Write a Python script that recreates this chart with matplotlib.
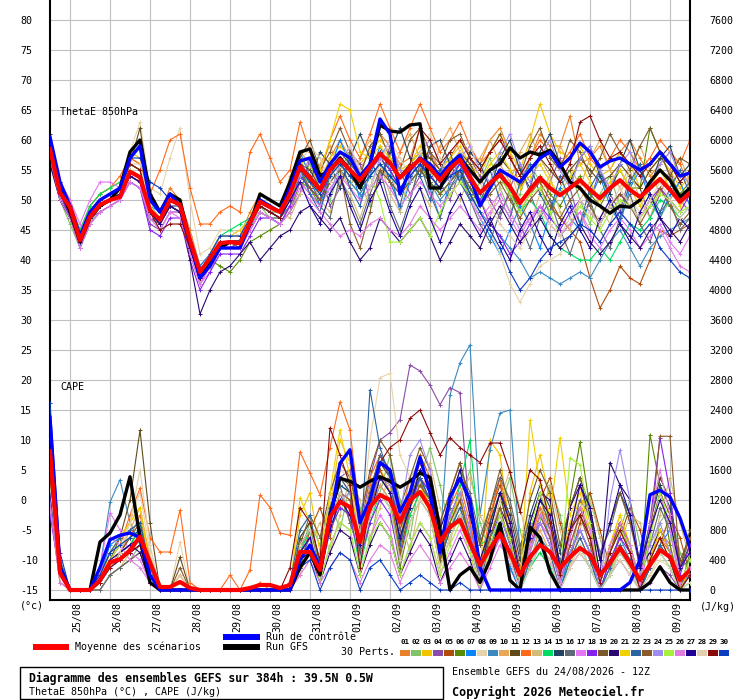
import matplotlib
matplotlib.use("Agg")
import matplotlib.pyplot as plt
import matplotlib.transforms as mtransforms
from matplotlib.lines import Line2D
from matplotlib.patches import Rectangle

plt.rcParams['font.family'] = ['DejaVu Sans Mono']

# forecast hours (every 6 h from 24/08 12Z, 384 h)
hours = list(range(0, 385, 6))
day_hours = [12, 36, 60, 84, 108, 132, 156, 180, 204, 228, 252, 276, 300, 324, 348, 372]
day_labels = ['25/08', '26/08', '27/08', '28/08', '29/08', '30/08', '31/08', '01/09',
              '02/09', '03/09', '04/09', '05/09', '06/09', '07/09', '08/09', '09/09']
theta_ticks = list(range(-15, 81, 5))
cape_ticks = list(range(0, 7601, 400))

pert_names = ['%02d' % (k + 1) for k in range(30)]
pert_colors = ['#E8812A', '#80C468', '#F2C400', '#8A4CA8', '#B04C0A', '#5A8A00', '#0A84FF', '#E8D4AC',
               '#3A8AC0', '#E8A858', '#604A1A', '#FF6A1A', '#D4BC78', '#00DC60', '#224460', '#5F6A78',
               '#E478F4', '#8420F0', '#7A5A2A', '#2A0870', '#F0D000', '#2A64A0', '#8A5A2A', '#A08CF0',
               '#A8F040', '#E07CE0', '#1E0096', '#E0D0B0', '#8A0A0A', '#0A3CC0']

# ---- ThetaE 850 hPa (degC) ----
theta_mean = [58.5, 51.2, 48.8, 43.3, 47.2, 49.2, 50.0, 50.5, 54.7, 53.8, 48.3, 46.7, 50.0, 49.2,
              43.3, 38.0, 40.3, 42.8, 43.0, 42.8, 46.2, 49.7, 48.8, 48.0,
              51.0, 55.5, 53.7, 51.7, 55.0, 56.7, 55.0, 53.3, 55.5, 57.7, 56.2, 53.7, 55.3, 56.8, 55.3, 53.3, 55.3, 56.7, 53.8,
              51.2, 52.8, 54.2, 52.2, 49.5, 51.7, 53.7, 52.0, 50.8, 52.0, 53.3, 51.7, 50.3, 52.0, 53.3, 51.7, 50.5, 52.0, 53.5, 51.7, 49.7, 51.2]
theta_control = [60.5, 53, 49, 44, 48, 50, 51, 52, 57, 59, 50, 48, 51, 49, 43, 37, 39, 42, 42, 42, 46, 50, 49, 48,
                 52, 56.5, 57, 53, 56, 58, 57, 54, 56, 63.5, 61, 51, 55, 57, 56, 54, 56, 57.5, 54,
                 49, 52, 55, 54, 53, 55, 57, 58, 55.5, 57, 59.5, 58, 55.5, 56.5, 57, 56, 55, 56, 58, 56, 54, 54.5]
theta_gfs = [59, 52, 48, 43, 47, 49, 50, 52, 58, 60, 51, 48, 51, 50, 43, 37, 40, 42, 43, 43, 46, 51, 50, 49,
             53, 58, 58.5, 54, 55, 57, 55, 52, 56, 62.5, 61.5, 61.3, 62.5, 62.7, 52, 52, 55, 57, 55,
             53, 55, 56, 58.7, 57, 58, 57.5, 58.3, 56, 53, 52, 50, 49, 47.8, 49, 48.8, 50, 53, 55, 53.3, 50.5, 52]
theta_perts = [
    [59,52,48,44, 48,50,51,52,57,56, 50,48,52,50, 45,39,41,44,44,44, 48,51,50,49, 53,58,56,53,57,60,57,55,58,61,59,56,57,62,58,55,57,60,58, 56,60,62,58,52,57,61,59,59,64,56,57,59,55,58,60,57,54,56,58,56,52],
    [57,50,46,42, 46,49,50,51,54,53, 47,46,49,48, 42,37,39,42,43,42, 45,49,47,47, 49,53,56,52,50,55,58,53,49,54,57,52,50,56,55,51,57,54,50, 53,57,52,48,51,56,53,47,52,55,50,46,51,54,49,52,56,51,47,50,53,49],
    [60,53,50,44, 49,51,52,53,58,57, 50,48,51,50, 44,38,41,44,44,45, 47,51,50,49, 52,57,55,53,57,59,57,56,58,60,58,55,56,59,57,55,57,59,56, 54,58,61,58,55,60,66,61,58,57,59,56,54,55,58,56,52,55,57,55,52,54],
    [56,50,47,43, 47,48,49,50,53,52, 46,45,48,48, 41,36,39,42,42,43, 45,48,47,46, 48,51,57,55,49,52,58,56,50,53,59,55,51,54,58,53,50,55,57, 54,50,47,52,56,51,47,53,57,52,46,50,55,51,48,54,52,47,51,55,50,48],
    [58,51,48,43, 47,49,50,51,55,54, 49,47,50,49, 43,37,39,42,43,42, 46,49,48,47, 50,55,53,50,54,56,54,52,55,57,55,52,54,56,54,52,54,56,53, 50,53,55,52,48,51,53,50,47,45,43,37,32,35,39,37,36,40,45,44,45,46],
    [59,52,49,44, 48,50,51,52,56,55, 48,46,50,49, 42,37,40,39,38,40, 43,44,45,46, 48,53,52,49,53,55,53,51,54,56,54,52,54,56,53,51,53,55,52, 50,52,54,51,49,52,54,51,49,52,54,51,49,52,55,52,52,62,58,54,51,53],
    [60,53,49,44, 48,50,51,52,56,55, 49,48,51,50, 44,39,41,44,44,44, 47,50,49,48, 52,58,54,49,55,60,56,50,54,59,55,48,53,58,52,47,53,56,51, 47,44,41,45,49,46,42,48,52,47,45,50,54,49,46,52,55,50,47,51,53,49],
    [58,52,49,44, 48,50,51,52,58,63, 52,51,57,62, 50,41,42,45,45,44, 47,50,49,48, 51,55,53,51,54,56,54,52,54,56,54,51,53,55,53,51,52,54,51, 47,45,41,36,33,36,39,40,41,44,46,48,47,49,51,50,48,50,52,50,48,49],
    [57,51,47,43, 47,49,50,51,54,53, 47,46,49,48, 42,37,39,42,42,42, 45,48,47,46, 49,54,52,50,53,55,53,51,54,56,53,51,53,55,53,50,52,54,51, 48,46,44,42,40,37,38,37,36,37,38,37,40,43,45,42,39,42,44,45,46,47],
    [59,52,49,44, 48,50,51,52,56,55, 49,47,50,50, 44,38,41,44,44,44, 47,50,49,48, 54,57,53,56,59,55,52,57,60,56,53,58,61,57,54,59,62,58,55, 57,60,56,53,58,61,57,54,59,56,52,57,60,55,52,56,59,55,51,55,57,53],
    [58,51,48,43, 47,49,50,52,56,62, 51,48,51,50, 44,38,40,43,43,43, 46,50,49,48, 51,56,55,52,56,58,56,54,56,58,56,54,56,58,57,55,56,58,56, 53,55,57,55,52,55,57,55,53,55,57,55,53,54,56,54,52,55,57,56,53,55],
    [60,53,50,45, 49,51,52,54,57,56, 51,55,60,61, 52,46,46,48,49,48, 58,61,57,53, 55,63,58,54,60,64,60,57,61,66,62,58,62,66,62,58,60,63,59, 56,58,60,57,54,57,60,58,56,58,61,57,55,57,60,58,55,57,60,58,56,60],
    [58,52,48,44, 48,50,51,52,55,54, 49,47,50,49, 43,38,40,43,43,43, 46,49,48,48, 47,51,54,50,48,53,51,47,52,56,51,48,54,52,49,55,53,50,54, 50,47,52,55,50,46,51,54,48,45,50,53,49,46,51,55,50,47,52,54,49,51],
    [59,52,49,45, 49,51,52,53,55,54, 49,47,50,49, 43,38,41,44,45,46, 47,50,49,48, 50,54,53,51,54,56,54,52,54,56,54,52,53,55,53,51,53,55,52, 50,52,54,51,48,50,48,44,42,41,40,40,42,40,43,46,45,47,50,49,47,49],
    [57,50,47,43, 47,49,50,51,54,53, 48,46,49,49, 42,37,40,43,43,43, 46,49,48,47, 50,55,53,58,56,52,57,61,57,53,58,62,57,54,59,60,56,53,58, 56,52,57,60,55,52,58,61,56,53,57,59,54,51,56,60,55,52,57,59,54,56],
    [58,51,48,43, 47,49,50,51,54,53, 47,46,49,48, 42,37,39,42,42,43, 45,48,47,47, 49,53,51,49,47,54,50,46,51,55,49,45,50,56,51,47,52,55,50, 46,43,48,51,46,42,47,50,45,41,46,50,45,42,47,51,46,43,48,50,45,47],
    [60,53,50,46, 50,53,53,52,54,53, 47,45,48,48, 42,36,38,42,42,42, 45,48,47,46, 49,53,51,49,52,54,52,50,52,54,52,49,51,53,51,49,51,53,50, 47,49,51,48,45,47,49,46,44,46,48,44,42,45,47,45,42,44,46,43,41,44],
    [57,51,47,42, 46,48,49,50,53,52, 45,44,47,47, 40,35,38,41,41,41, 44,47,47,46, 49,54,52,50,54,56,54,52,55,57,55,52,54,56,54,52,54,56,53, 50,46,44,41,43,46,49,47,45,48,50,48,46,49,51,49,47,50,52,50,48,51],
    [59,52,49,44, 48,50,51,52,56,55, 48,46,50,49, 43,37,40,43,43,43, 46,50,49,48, 53,57,60,55,58,62,58,54,59,61,57,55,60,62,58,56,60,61,57, 55,58,61,57,54,59,62,57,55,60,58,54,57,61,58,55,59,62,58,54,57,56],
    [56,50,47,43, 47,49,50,51,54,53, 48,46,49,48, 40,31,35,38,39,41, 43,40,42,44, 45,48,49,47,45,47,43,40,42,47,45,43,45,47,44,40,43,46,44, 42,46,49,46,43,45,47,44,42,44,46,43,41,43,46,44,42,45,47,45,43,46],
    [59,52,49,44, 48,50,51,52,55,54, 48,47,50,49, 43,38,41,44,44,44, 47,50,49,48, 52,56,57,55,60,66,65,58,57,59,57,55,56,58,56,54,56,58,55, 53,56,58,55,52,54,56,53,51,54,56,53,50,53,55,52,49,52,55,52,49,52],
    [58,51,48,43, 47,49,50,51,55,54, 48,47,50,49, 43,37,40,43,43,43, 46,49,48,48, 50,55,51,48,54,57,52,49,55,58,53,49,56,54,50,55,58,53,50, 51,55,50,47,53,56,51,48,54,50,46,52,55,50,47,53,56,51,48,52,55,51],
    [58,51,48,43, 47,49,50,51,54,53, 48,46,49,48, 42,37,40,43,43,43, 46,49,48,47, 50,55,52,50,53,55,46,42,48,55,53,51,53,55,53,51,53,55,52, 49,51,53,50,47,50,52,49,47,50,52,49,46,49,51,49,46,49,52,49,46,48],
    [58,52,48,43, 48,50,51,52,55,54, 48,47,50,49, 43,38,40,43,43,43, 46,49,48,48, 51,54,57,53,51,56,59,54,52,57,60,55,53,58,60,56,53,57,59, 55,53,58,61,56,53,57,60,55,52,57,59,55,52,56,58,54,52,56,58,54,53],
    [59,52,49,44, 48,50,51,52,55,54, 49,47,50,49, 43,38,40,43,43,43, 46,49,48,48, 50,55,53,51,54,56,54,52,54,50,43,43,45,47,44,48,51,53,51, 49,52,54,51,48,51,52,48,44,46,49,47,45,48,50,49,47,49,51,50,48,49],
    [57,50,47,42, 46,48,49,50,53,52, 47,45,48,47, 41,36,39,42,42,42, 45,48,47,46, 48,52,50,48,46,44,45,44,46,47,45,44,46,49,47,45,47,49,47, 45,48,50,47,44,47,49,46,44,46,48,45,43,46,48,46,44,46,45,42,39,38],
    [58,51,48,43, 47,49,50,51,54,53, 48,46,49,48, 42,37,40,43,43,43, 46,49,48,47, 50,53,49,46,51,54,49,45,50,53,48,44,49,52,47,43,48,51,47, 44,47,43,40,45,48,44,41,46,49,45,42,47,50,46,43,48,51,47,44,47,45],
    [58,52,49,44, 48,50,51,52,56,56, 49,47,51,50, 44,38,41,44,44,44, 47,50,49,48, 52,56,59,57,53,57,59,55,52,56,60,57,54,58,61,57,54,58,60, 53,49,46,44,42,45,48,46,44,47,50,48,46,49,52,49,47,50,53,50,47,49],
    [59,52,49,44, 48,50,51,52,56,55, 48,45,46,46, 42,37,40,43,43,43, 46,49,48,47, 51,56,54,52,55,57,55,53,56,58,56,54,56,62,60,56,58,60,57, 55,58,60,57,54,57,59,56,53,56,63,64,60,57,58,56,54,56,58,56,53,55],
    [61,53,49,44, 48,50,51,52,57,57, 53,52,50,49, 43,38,41,44,44,44, 47,50,49,48, 51,55,53,51,54,56,54,52,54,56,54,52,54,56,54,52,54,55,51, 48,45,42,38,35,37,40,42,43,44,46,45,43,46,48,46,44,46,42,40,38,37],
]

# ---- CAPE (J/kg) ----
cape_mean = [1850, 230, 0, 0, 0, 130, 370, 410, 530, 710, 370, 40, 40, 107, 27, 0, 0, 0, 0, 0, 27, 67, 67, 27,
             67, 507, 507, 267, 973, 1173, 1107, 640, 1107, 1267, 1200, 907, 1200, 1307, 1093, 640, 840, 933, 627, 333,
             550, 750, 493, 200, 440, 600, 507, 293, 440, 560, 467, 200, 360, 560, 360, 133, 333, 533, 440, 133, 267]
cape_control = [2300, 300, 0, 0, 0, 300, 670, 730, 760, 700, 200, 0, 0, 0, 0, 0, 0, 0, 0, 0, 0, 0, 0, 0,
                0, 400, 600, 300, 900, 1690, 1870, 900, 1200, 1700, 1600, 1040, 1300, 1770, 1300, 500, 1240, 1490, 1200, 300,
                0, 0, 0, 0, 0, 0, 0, 0, 0, 0, 0, 0, 0, 0, 100, 400, 1270, 1330, 1240, 960, 570]
cape_gfs = [2000, 300, 0, 0, 0, 640, 760, 1000, 1510, 700, 100, 0, 0, 0, 0, 0, 0, 0, 0, 0, 0, 0, 0, 0,
            0, 300, 500, 200, 1000, 1490, 1450, 1370, 1450, 1510, 1450, 1370, 1450, 1560, 1500, 800, 0, 200, 300, 100,
            400, 890, 130, 0, 840, 700, 240, 0, 0, 0, 0, 0, 0, 0, 0, 0, 100, 310, 100, 0, 0]
cape_perts = [
    [1700,300,0,0, 0,100,400,500,700,1000,300,0, 0,200,0,0,0,0,0,0, 0,100,0,0, 100,600,700,300,1200,1500,1300,700,1400,1700,1500,900,1500,1700,1300,500,1000,1200,700,300,900,1500,700,100,600,1100,900,300,800,1400,900,200,500,900,600,100,400,800,600,100,300],
    [1200,200,0,0, 0,0,200,300,400,600,100,0, 0,0,0,0,0,0,0,0, 0,0,0,0, 0,500,900,600,1200,800,1400,1100,600,1300,1800,1200,700,1500,1900,1400,800,1200,1600,900,500,1100,1500,800,300,900,1400,1000,400,1100,1300,700,200,800,1200,600,300,900,1100,500,200],
    [1500,300,0,0, 0,100,500,700,900,1100,400,0, 0,0,0,0,0,0,0,0, 0,0,0,0, 0,1000,1300,500,1100,2000,1700,600,1300,1600,1400,400,1200,1500,1100,300,900,1200,700,200,2000,1800,800,100,1300,1800,1200,300,900,1200,700,100,600,1000,600,100,400,700,400,0,300],
    [1400,200,0,0, 0,100,300,400,500,700,200,0, 0,0,0,0,0,0,0,0, 0,0,0,0, 0,600,800,200,900,1500,1600,800,1500,2000,2100,2270,3000,2920,2730,2470,2700,2630,900,200,500,700,300,0,400,600,400,0,300,500,300,0,200,400,200,0,100,300,200,0,0],
    [1100,100,0,0, 0,0,200,300,400,500,100,0, 0,0,0,0,0,0,0,0, 0,0,0,0, 0,300,800,1100,700,1300,900,500,1100,1600,1300,700,1200,1800,1500,900,1300,1700,1100,600,1000,1400,900,300,700,1200,1500,900,400,900,1300,800,300,700,1100,800,300,600,1000,700,200],
    [1300,200,0,0, 0,100,300,500,600,800,200,0, 0,0,0,0,0,0,0,0, 0,0,0,0, 0,500,700,200,800,1200,1100,400,1000,1300,1100,300,900,1200,1000,300,700,1000,600,200,900,1300,700,100,500,1000,700,100,1200,1970,1100,100,600,900,500,0,2070,1400,600,0,500],
    [1600,400,0,0, 0,200,600,700,800,900,200,0, 0,0,0,0,0,0,0,0, 0,0,0,0, 0,700,900,200,1000,1400,1300,500,1200,1500,1300,500,1100,1400,1200,400,800,1100,600,100,400,700,300,0,300,600,300,0,500,800,500,0,300,600,400,0,300,600,800,100,200],
    [1500,300,0,0, 0,100,400,600,900,1300,500,0, 0,640,0,0,0,0,0,0, 0,0,0,0, 0,800,1000,300,1200,1600,1500,700,2000,2830,2890,1800,1500,1700,1300,400,900,1100,600,100,500,800,400,0,300,500,300,0,300,500,300,0,200,400,200,0,200,400,300,0,100],
    [1200,200,0,0, 0,300,1170,1470,900,600,200,0, 0,0,0,0,0,0,0,0, 0,0,0,0, 0,500,700,200,900,1300,1100,400,1000,1400,1200,400,1100,1500,1300,600,2600,3030,3270,1000,1870,2360,2400,500,800,1100,700,100,500,800,500,0,400,700,400,0,300,600,400,0,200],
    [1300,200,0,0, 0,100,300,500,800,1100,400,0, 0,200,0,0,0,0,0,0, 0,0,0,0, 0,600,800,200,900,1300,1200,500,1100,1400,1200,500,1000,1300,1100,300,700,1000,600,100,600,900,500,0,400,800,500,0,400,700,400,0,300,600,400,0,300,600,400,0,200],
    [1400,300,0,0, 0,100,400,700,1200,2130,900,0, 0,440,0,0,0,0,0,0, 0,0,0,0, 0,700,900,300,1000,1500,1400,600,1300,1700,1500,600,1200,1600,1400,500,900,1200,700,200,800,1300,700,100,700,1200,900,200,800,1100,700,100,500,900,600,100,900,1500,1200,300,800],
    [1800,400,0,0, 0,100,400,600,1000,1360,700,507, 507,1067,100,0,0,0,200,0, 270,1270,1100,760, 730,1840,1560,1270,1900,2510,2130,1000,1500,1800,1600,800,1300,1700,1400,600,1100,1400,900,300,1000,1500,900,200,700,1100,800,100,600,1000,700,100,500,900,600,100,400,700,500,0,300],
    [1100,100,0,0, 0,0,200,300,500,700,200,0, 0,0,0,0,0,0,0,0, 0,0,0,0, 0,200,600,900,500,1000,1500,1200,700,1100,1600,1000,500,1200,1700,1100,600,1300,1500,1000,700,1200,1600,1100,500,1000,1400,800,300,800,1200,700,200,600,1000,900,400,1000,1500,900,400],
    [1600,300,0,0, 0,100,300,500,600,840,200,0, 0,0,0,0,0,0,0,0, 0,0,0,0, 0,500,800,200,800,1100,1000,300,900,1300,1100,400,1000,1300,1100,300,900,1400,2000,600,700,900,400,0,300,500,300,0,400,600,300,0,200,500,300,0,300,500,300,0,100],
    [1500,300,0,0, 0,100,300,400,500,600,100,0, 0,0,0,0,0,0,0,0, 0,0,0,0, 0,600,800,300,1000,1400,1300,500,1300,1800,1600,600,1200,1500,1200,400,800,1000,600,100,900,1300,1000,400,1000,1400,1100,500,1100,1500,1100,400,900,1300,1000,300,900,1400,1100,300,600],
    [1200,200,0,0, 0,0,200,300,400,500,100,0, 0,0,0,0,0,0,0,0, 0,0,0,0, 0,400,700,400,1100,1400,900,500,1300,1800,1500,800,1200,1500,1000,600,1100,1600,1300,700,1100,1500,1200,600,900,1300,800,400,700,1200,1000,500,800,1300,900,400,600,1100,800,300,400],
    [1300,200,0,0, 0,300,1030,800,500,400,100,0, 0,0,0,0,0,0,0,0, 0,0,0,0, 0,300,500,100,600,900,800,200,700,1000,800,200,600,900,700,200,500,800,500,0,400,700,400,0,500,900,700,100,600,1000,700,100,500,800,500,0,700,1300,800,100,300],
    [1000,200,0,0, 0,100,300,400,500,600,100,0, 0,0,0,0,0,0,0,0, 0,0,0,0, 0,500,700,200,800,1100,1000,400,900,1200,1000,400,1100,1500,1300,500,1000,1300,800,200,700,1000,600,100,600,900,600,100,500,800,500,0,400,700,500,0,900,2030,1300,200,600],
    [1400,300,0,0, 0,100,300,500,700,900,300,0, 0,0,0,0,0,0,0,0, 0,0,0,0, 0,600,1000,700,1300,1700,1500,900,1600,2000,1800,1100,1500,1900,1600,900,1300,1700,1200,600,1100,1600,1100,500,1200,1600,1300,600,1100,1500,1000,400,900,1300,900,300,800,1300,1000,400,700],
    [1200,200,0,0, 0,100,300,500,600,500,100,0, 0,0,0,0,0,0,0,0, 0,0,0,0, 0,400,500,100,500,800,700,200,600,900,700,200,500,800,600,100,400,700,400,0,700,1100,800,100,900,1300,1200,300,1100,1400,1000,200,1700,1400,1200,300,500,800,500,0,300],
    [1500,300,0,0, 0,200,500,700,900,1100,300,0, 0,0,0,0,0,0,0,0, 0,0,0,0, 0,1230,900,300,1300,2130,1500,500,1200,1500,1300,500,1100,1400,1100,300,900,1300,700,100,700,1100,600,100,2270,1400,1000,2030,1000,1300,800,100,600,1000,600,100,400,800,500,0,300],
    [1700,400,0,0, 0,200,500,700,800,900,300,0, 0,0,0,0,0,0,0,0, 0,0,0,0, 100,800,1000,300,1100,1500,1300,500,2670,1900,1500,600,1200,1500,1200,400,800,1100,700,100,600,900,500,0,400,700,500,0,400,700,400,0,300,600,400,0,300,600,400,0,200],
    [1300,200,0,0, 0,100,300,500,700,800,200,0, 0,300,0,0,0,0,0,0, 0,0,0,0, 0,500,700,200,900,1300,1200,400,1100,1500,1300,500,1100,1400,1200,400,900,1200,700,200,700,1100,600,100,600,1000,700,100,600,1000,600,100,500,900,600,100,700,2050,2050,300,700],
    [1200,200,0,0, 0,100,300,400,500,700,200,0, 0,0,0,0,0,0,0,0, 0,0,0,0, 0,500,700,200,800,1200,1300,600,1200,1500,1400,1000,1800,2000,1600,600,1000,1300,800,200,600,1000,600,100,500,900,600,100,500,800,500,0,1200,1870,1200,200,600,900,500,0,200],
    [1600,300,0,0, 0,100,400,600,700,800,200,0, 0,0,0,0,0,0,0,0, 0,0,0,0, 0,400,600,100,600,900,800,200,700,900,700,200,600,900,700,200,600,900,500,0,600,1000,700,100,800,1300,900,200,1760,1670,900,100,500,800,600,100,700,1300,900,100,400],
    [1100,100,0,0, 0,200,700,600,400,300,100,0, 0,0,0,0,0,0,0,0, 0,0,0,0, 0,200,400,100,300,500,400,100,400,600,500,100,400,600,400,100,300,500,300,0,300,600,400,0,600,1000,800,100,700,1100,800,100,600,900,600,100,900,1600,1000,100,300],
    [1300,300,0,0, 0,100,400,500,600,700,100,0, 0,0,0,0,0,0,0,0, 0,0,0,0, 0,500,700,300,800,1200,1000,600,1000,1500,1300,700,1100,1600,1400,800,1200,1600,1000,400,800,1300,900,200,700,1200,1000,300,800,1400,1100,400,900,1400,1000,300,800,1200,900,300,500],
    [1400,200,0,0, 0,100,300,500,900,1600,600,0, 0,200,0,0,0,0,0,0, 0,0,0,0, 0,600,800,200,900,1300,1100,400,1000,1300,1100,400,900,1200,1000,300,700,1000,600,100,500,800,400,0,300,600,400,0,300,600,300,0,200,500,300,0,200,500,300,0,100],
    [1500,300,0,0, 0,100,300,400,500,600,100,0, 0,0,0,0,0,0,0,0, 0,0,0,0, 300,1100,900,400,2160,1800,1400,300,1200,1700,1900,2000,2290,2400,2100,1800,2030,1900,1800,1700,1960,1960,1570,1040,1600,1470,900,200,800,1000,700,100,500,800,500,0,400,700,400,0,200],
    [2500,500,0,0, 0,200,500,600,700,800,200,0, 0,0,0,0,0,0,0,0, 0,0,0,0, 0,300,400,0,300,500,400,0,300,400,200,0,100,200,100,0,0,100,0,0,0,0,0,0,0,0,0,0,0,0,0,0,0,0,0,0,0,0,0,0,0],
]

for name, seq in [('theta_mean', theta_mean), ('theta_control', theta_control), ('theta_gfs', theta_gfs),
                  ('cape_mean', cape_mean), ('cape_control', cape_control), ('cape_gfs', cape_gfs)]:
    if len(seq) != len(hours):
        raise ValueError('%s has %d values' % (name, len(seq)))
for k, seq in enumerate(theta_perts):
    if len(seq) != len(hours):
        raise ValueError('theta pert %d has %d values' % (k + 1, len(seq)))
for k, seq in enumerate(cape_perts):
    if len(seq) != len(hours):
        raise ValueError('cape pert %d has %d values' % (k + 1, len(seq)))

# ---------------- figure ----------------
W, H = 740, 700
fig = plt.figure(figsize=(W / 100, H / 100), dpi=100)
fs = 7.2

def fx(px):
    return px / W

def fy(py):
    return 1 - py / H

ax = fig.add_axes([fx(50), 100 / H, 640 / W, 600 / H])
y0, y1 = -15 - 10 / 6, 80 + 20 / 6
ax.set_xlim(0, 384)
ax.set_ylim(y0, y1)
ax2 = ax.twinx()
ax2.set_ylim((y0 + 15) * 80, (y1 + 15) * 80)

ax.set_xticks(day_hours)
ax.set_yticks(theta_ticks)
ax.grid(True, color='#c0c0c0', lw=0.8)
ax.set_axisbelow(True)
ax.tick_params(axis='x', length=0, labelbottom=False)
ax.tick_params(axis='y', length=0, pad=21.6)
ax.set_yticklabels([str(v) for v in theta_ticks], ha='left', fontsize=fs)
ax2.set_yticks(cape_ticks)
ax2.set_yticklabels([str(v) for v in cape_ticks], ha='left', fontsize=fs)
ax2.tick_params(axis='y', length=0, pad=13.7)

for s in ['left', 'right', 'bottom']:
    ax.spines[s].set_color('black')
    ax.spines[s].set_linewidth(1.5)
ax.spines['top'].set_visible(False)
for s in ax2.spines.values():
    s.set_visible(False)

# perturbations
for col, th, cp in zip(pert_colors, theta_perts, cape_perts):
    ax.plot(hours, th, color=col, lw=0.8, marker='+', ms=3, mew=0.7, zorder=2)
    ax2.plot(hours, cp, color=col, lw=0.8, marker='+', ms=3, mew=0.7, zorder=2)

ax.plot(hours, theta_gfs, color='black', lw=2.4, zorder=3)
ax.plot(hours, theta_control, color='#0000ff', lw=2.4, zorder=4)
ax.plot(hours, theta_mean, color='#ff0000', lw=3.0, zorder=5)
ax2.plot(hours, cape_gfs, color='black', lw=2.4, zorder=3)
ax2.plot(hours, cape_control, color='#0000ff', lw=2.4, zorder=4)
ax2.plot(hours, cape_mean, color='#ff0000', lw=3.0, zorder=5)

# date labels
trans = mtransforms.blended_transform_factory(ax.transData, fig.transFigure)
trans = mtransforms.offset_copy(trans, fig=fig, x=7, y=0, units='dots')
for h, lab in zip(day_hours, day_labels):
    fig.text(h, fy(602), lab, transform=trans, rotation=90, ha='center', va='top', fontsize=fs)

fig.text(fx(60), fy(112), 'ThetaE 850hPa', va='center', ha='left', fontsize=fs)
fig.text(fx(60), fy(387), 'CAPE', va='center', ha='left', fontsize=fs)
fig.text(fx(20), fy(606), '(°c)', va='center', ha='left', fontsize=fs)
fig.text(fx(700), fy(607), '(J/kg)', va='center', ha='left', fontsize=fs)

# legend
fig.add_artist(Line2D([fx(36), fx(66)], [fy(647), fy(647)], color='#ff0000', lw=4.3, transform=fig.transFigure))
fig.text(fx(75), fy(647), 'Moyenne des scénarios', va='center', ha='left', fontsize=fs)
fig.add_artist(Line2D([fx(226), fx(257)], [fy(637), fy(637)], color='#0000ff', lw=4.3, transform=fig.transFigure))
fig.add_artist(Line2D([fx(226), fx(257)], [fy(647), fy(647)], color='black', lw=4.3, transform=fig.transFigure))
fig.text(fx(266), fy(637), 'Run de contrôle', va='center', ha='left', fontsize=fs)
fig.text(fx(266), fy(647), 'Run GFS', va='center', ha='left', fontsize=fs)
fig.text(fx(341), fy(652), '30 Perts.', va='center', ha='left', fontsize=fs)
for k, (nm, col) in enumerate(zip(pert_names, pert_colors)):
    x0 = 400 + 11 * k
    fig.add_artist(Rectangle((fx(x0), fy(656)), 10 / W, 6 / H, facecolor=col, edgecolor='none',
                             transform=fig.transFigure))
    fig.text(fx(x0 + 5), fy(642), nm, va='center', ha='center', fontsize=5.4, fontweight='bold')

# title block
fig.add_artist(Rectangle((fx(20), fy(699)), 423 / W, 32 / H, fill=False, edgecolor='black', lw=1.0,
                         transform=fig.transFigure))
fig.text(fx(29), fy(678), 'Diagramme des ensembles GEFS sur 384h : 39.5N 0.5W', va='center', ha='left',
         fontsize=8.3, fontweight='bold')
fig.text(fx(29), fy(692), 'ThetaE 850hPa (°C) , CAPE (J/kg)', va='center', ha='left', fontsize=fs)
fig.text(fx(452), fy(672), 'Ensemble GEFS du 24/08/2026 - 12Z', va='center', ha='left', fontsize=fs)
fig.text(fx(452), fy(692), 'Copyright 2026 Meteociel.fr', va='center', ha='left', fontsize=8.5,
         fontweight='bold')

fig.savefig('out.png', dpi=100)
